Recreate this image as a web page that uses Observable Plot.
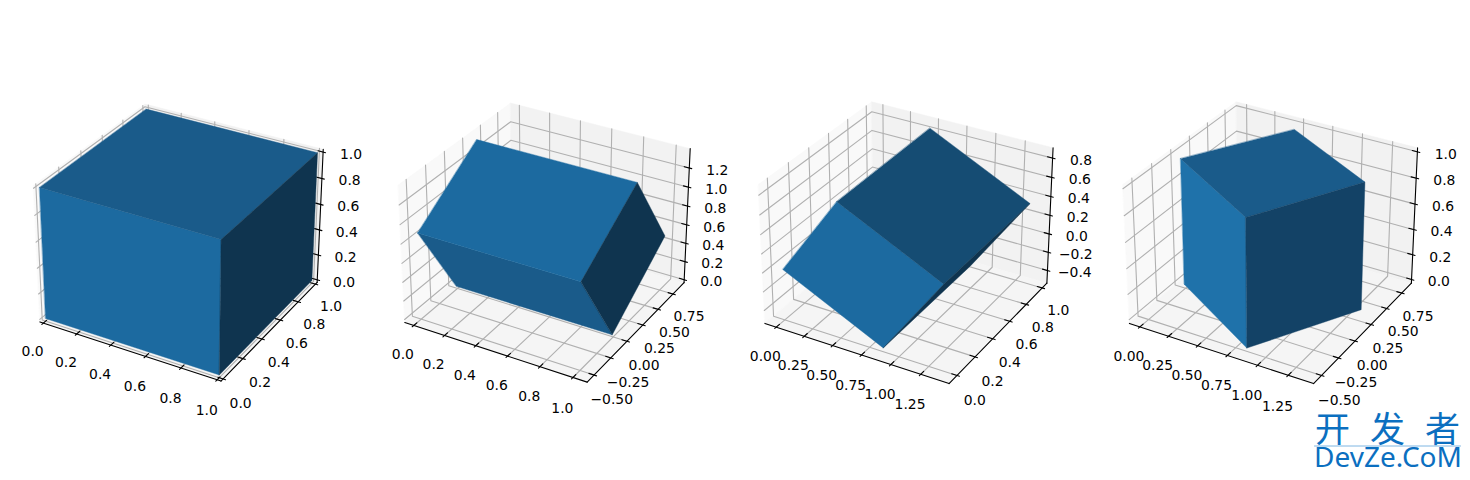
<!DOCTYPE html>
<html><head><meta charset="utf-8">
<style>html,body{margin:0;padding:0;background:#fff}</style>
<script src="https://cdn.jsdelivr.net/npm/d3@7"></script>
<script src="https://cdn.jsdelivr.net/npm/@observablehq/plot@0.6"></script>
</head><body><div id="chart"></div>
<script>
// Cube corners per panel (x, y, z data values)
const cubeA = [[0,0,0],[1,0,0],[1,1,0],[0,1,0],[0,0,1],[1,0,1],[1,1,1],[0,1,1]];
const cubeB = [[0,-.015,0],[1,-.015,0],[1,.81,.52],[0,.81,.52],[0,-.5,.88],[1,-.5,.88],[1,.32,1.37],[0,.32,1.37]];
const cubeC = [[0,0,0],[.866,0,-.5],[.866,.975,-.5],[0,.975,0],[.49,0,.866],[1.366,0,.355],[1.366,.975,.355],[.49,.975,.866]];
const cubeD = [[0,-.015,.01],[.856,-.52,.01],[1.327,.332,.01],[.484,.802,.01],[0,-.015,.99],[.856,-.52,.99],[1.327,.332,.99],[.484,.802,.99]];
// Visible faces (corner indexes) shared by all panels
const faceFront = [0,1,5,4], faceTop = [4,5,6,7], faceSide = [1,2,6,5];
// Face colours per panel: front, top, side
const shadesA = ["#1c6aa0","#1a5b8a","#0f344f"];
const shadesB = ["#1a5b8a","#1c6aa0","#0f344f"];
const shadesC = ["#1c6aa0","#154c73","#0f344f"];
const shadesD = ["#1f72aa","#1a5b8a","#134266"];
// Tick values
const ticks01 = [0,.2,.4,.6,.8,1];
const ticksB = [-.5,-.25,0,.25,.5,.75];
const ticksZ2 = [0,.2,.4,.6,.8,1,1.2];
const ticksX3 = [0,.25,.5,.75,1,1.25];
const ticksZ3 = [-.4,-.2,0,.2,.4,.6,.8];
// Axis limits per panel
const limitsA = [[-.0208,1.0208],[-.0208,1.0208],[-.0208,1.0208]];
const limitsB = [[-.059,1.085],[-.601,.941],[-.033,1.399]];
const limitsC = [[-.103,1.483],[-.0845,1.0595],[-.54,.906]];
const limitsD = [[-.093,1.453],[-.613,.913],[-.03,1.03]];
// Panel centre and size in page pixels
const centres = [180.6,546.5,908,1272.5];
const scales = [1742,1755,1772,1772];
const centreY = 235.4;

const panels = [
 {cube:cubeA,lim:limitsA,shades:shadesA,tx:ticks01,ty:ticks01,tz:ticks01,dx:1,dy:1,dz:1},
 {cube:cubeB,lim:limitsB,shades:shadesB,tx:ticks01,ty:ticksB,tz:ticksZ2,dx:1,dy:2,dz:1},
 {cube:cubeC,lim:limitsC,shades:shadesC,tx:ticksX3,ty:ticks01,tz:ticksZ3,dx:2,dy:1,dz:1},
 {cube:cubeD,lim:limitsD,shades:shadesD,tx:ticksX3,ty:ticksB,tz:ticks01,dx:2,dy:2,dz:1}
];

// Matplotlib-style perspective view: elev 30, azim -60, dist 10, box aspect 4:4:3
const k = 1.8294640721620434*25/24/Math.sqrt(41);
const box = [4*k,4*k,3*k], dist = 10;
const el = 30*Math.PI/180, az = -60*Math.PI/180;
const U = [Math.cos(el)*Math.cos(az),Math.cos(el)*Math.sin(az),Math.sin(el)];
const nv = Math.hypot(U[0],U[1]);
const V = [-U[1]/nv,U[0]/nv,0];
const W = [U[1]*V[2]-U[2]*V[1],U[2]*V[0]-U[0]*V[2],U[0]*V[1]-U[1]*V[0]];
const dot = (a,b)=>a[0]*b[0]+a[1]*b[1]+a[2]*b[2];
function screen(n,cx,s){
  const d=[(n[0]-.5)*box[0],(n[1]-.5)*box[1],(n[2]-.5)*box[2]];
  const depth=dist-dot(d,U);
  return {x:cx+s*dot(d,V)/depth,y:centreY-s*dot(d,W)/depth};
}

const paneRows=[],gridRows=[],inkRows=[],labelRows=[],faceMarks=[];
const paneColours={x:"#f9f9f9",y:"#f2f2f2",z:"#f5f5f5"};
const fmt=(v,dec)=>{const s=Math.abs(v).toFixed(dec);return (v<0?"\u2212":"")+s;};
let id=0;
panels.forEach((p,pi)=>{
  const cx=centres[pi], sc=scales[pi], lim=p.lim;
  const nx=(v,i)=>(v-lim[i][0])/(lim[i][1]-lim[i][0]);
  const N=c=>[nx(c[0],0),nx(c[1],1),nx(c[2],2)];
  const path=(rows,pts,extra)=>{const g=id++;pts.forEach(n=>rows.push({...screen(n,cx,sc),g,...extra}));};
  path(paneRows,[[0,0,0],[0,1,0],[0,1,1],[0,0,1]],{c:paneColours.x});
  path(paneRows,[[0,1,0],[1,1,0],[1,1,1],[0,1,1]],{c:paneColours.y});
  path(paneRows,[[0,0,0],[1,0,0],[1,1,0],[0,1,0]],{c:paneColours.z});
  path(inkRows,[[0,0,0],[1,0,0]]);
  path(inkRows,[[1,0,0],[1,1,0]]);
  path(inkRows,[[1,1,0],[1,1,1]]);
  const tickOut=.013, tickIn=.027;
  const fX=.125, fY=.125, fZ=.097;
  const label=(n,text,ox,oy)=>{const s=screen(n,cx,sc);labelRows.push({x:s.x+ox,y:s.y+oy,text});};
  p.tx.forEach(t=>{const a=nx(t,0);
    path(gridRows,[[a,0,0],[a,1,0],[a,1,1]]);
    path(inkRows,[[a,-tickOut,0],[a,tickIn,0]]);
    label([a,-fX,-fX],fmt(t,p.dx),3,0);
  });
  p.ty.forEach(t=>{const a=nx(t,1);
    path(gridRows,[[0,a,1],[0,a,0],[1,a,0]]);
    path(inkRows,[[1+tickOut,a,0],[1-tickIn,a,0]]);
    label([1+fY,a,-fY],fmt(t,p.dy),-6,0);
  });
  p.tz.forEach(t=>{const a=nx(t,2);
    path(gridRows,[[0,0,a],[0,1,a],[1,1,a]]);
    path(inkRows,[[1+tickOut,1,a],[1-tickIn,1,a]]);
    label([1+fZ,1+fZ,a],fmt(t,p.dz),1,6);
  });
  [faceFront,faceTop,faceSide].forEach((f,i)=>{
    const rows=f.map(j=>screen(N(p.cube[j]),cx,sc));
    faceMarks.push(Plot.line(rows,{x:"x",y:"y",curve:"linear-closed",fill:p.shades[i],stroke:p.shades[i],strokeWidth:.4}));
  });
});

// Watermark text
const markCjk=[{x:1332,y:430,text:"开"},{x:1387,y:430,text:"发"},{x:1442,y:430,text:"者"}];
const markLatin=[{x:1387.5,y:458,text:"DevZe.CoM"}];
const markRule=[{x:1314,y:445.5},{x:1460,y:445.5}];
const blue="#0b6fc0";

const chart=Plot.plot({
  width:1470,height:480,margin:0,
  x:{domain:[0,1470],range:[0,1470],axis:null},
  y:{domain:[0,480],range:[0,480],axis:null},
  marks:[
    ...d3.groups(paneRows,d=>d.g).map(([g,rows])=>Plot.line(rows,{x:"x",y:"y",curve:"linear-closed",fill:rows[0].c,stroke:rows[0].c,strokeWidth:.5})),
    Plot.line(gridRows,{x:"x",y:"y",z:"g",stroke:"#b0b0b0",strokeWidth:1.1}),
    Plot.line(inkRows,{x:"x",y:"y",z:"g",stroke:"#000",strokeWidth:1.1}),
    ...faceMarks,
    Plot.text(labelRows,{x:"x",y:"y",text:"text",fontSize:13.9,fontFamily:"DejaVu Sans",fill:"#000",textAnchor:"middle",lineAnchor:"middle"}),
    Plot.text(markCjk,{x:"x",y:"y",text:"text",fontSize:35,fontFamily:"Noto Sans CJK SC",fill:blue,textAnchor:"middle",lineAnchor:"middle"}),
    Plot.line(markRule,{x:"x",y:"y",stroke:"#7fb6e2",strokeWidth:1}),
    Plot.text(markLatin,{x:"x",y:"y",text:"text",fontSize:28,fontFamily:"Noto Sans",fill:blue,textAnchor:"middle",lineAnchor:"middle"})
  ]
});
document.getElementById("chart").appendChild(chart);
</script></body></html>
